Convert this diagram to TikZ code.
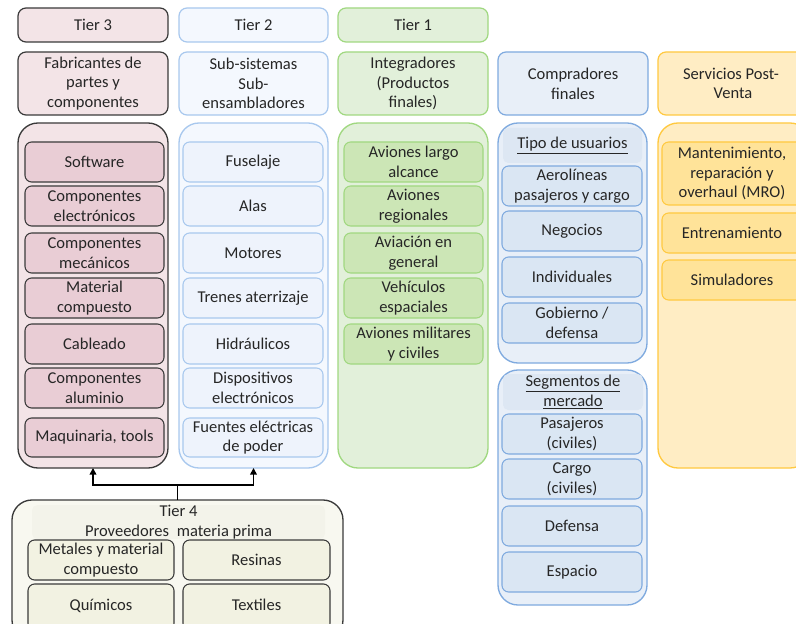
\documentclass[tikz,border=0pt]{standalone}
\usepackage{fontspec}
\setmainfont{Carlito}
\usetikzlibrary{arrows.meta,calc}

\definecolor{ink}{HTML}{3A3A3A}
\definecolor{txt}{HTML}{262626}
\definecolor{pinkA}{HTML}{F3E4E7}
\definecolor{pinkB}{HTML}{E9CDD5}
\definecolor{skyA}{HTML}{F4F8FE}
\definecolor{skyB}{HTML}{EEF3FC}
\definecolor{skyL}{HTML}{A8C8EE}
\definecolor{grnA}{HTML}{E2F0DA}
\definecolor{grnB}{HTML}{CCE6B6}
\definecolor{grnL}{HTML}{A0D880}
\definecolor{bluA}{HTML}{E8EFF8}
\definecolor{bluH}{HTML}{DDE7F3}
\definecolor{bluB}{HTML}{DAE6F3}
\definecolor{bluL}{HTML}{7FAADF}
\definecolor{ylwA}{HTML}{FFEDC4}
\definecolor{ylwB}{HTML}{FFE399}
\definecolor{ylwL}{HTML}{FFC940}
\definecolor{crmA}{HTML}{F8F8F0}
\definecolor{crmH}{HTML}{F3F3EA}
\definecolor{crmB}{HTML}{F2F2E2}

% box from corner (x1,y1) to corner (x2,y2), pixel units, y downwards
\newcommand\bx[7]{\node[#6, minimum width={(#4-#2)*0.75pt}, minimum height={(#5-#3)*0.75pt}] (#1) at ({(#2+#4)/2},{(#3+#5)/2}) {#7};}

\tikzset{
  base/.style={inner sep=0pt, outer sep=0pt, align=center, text=txt,
    font=\fontsize{12.4}{14.8}\selectfont},
  hdr/.style={base, rounded corners=6pt, line width=0.9pt},
  cont/.style={base, rounded corners=15pt, line width=1pt},
  item/.style={base, rounded corners=5pt, line width=0.8pt},
  band/.style={base, rounded corners=4pt},
  pinkhdr/.style={hdr, fill=pinkA, draw=ink},
  pinkcont/.style={cont, fill=pinkA, draw=ink},
  pinkitem/.style={item, fill=pinkB, draw=ink},
  skyhdr/.style={hdr, fill=skyA, draw=skyL},
  skycont/.style={cont, fill=skyA, draw=skyL},
  skyitem/.style={item, fill=skyB, draw=skyL},
  grnhdr/.style={hdr, fill=grnA, draw=grnL},
  grncont/.style={cont, fill=grnA, draw=grnL},
  grnitem/.style={item, fill=grnB, draw=grnL},
  bluhdr/.style={hdr, fill=bluA, draw=bluL},
  blucont/.style={cont, fill=bluA, draw=bluL},
  bluitem/.style={item, fill=bluB, draw=bluL},
  ylwhdr/.style={hdr, fill=ylwA, draw=ylwL},
  ylwcont/.style={cont, fill=ylwA, draw=ylwL},
  ylwitem/.style={item, fill=ylwB, draw=ylwL},
  crmcont/.style={cont, fill=crmA, draw=ink},
  crmitem/.style={item, fill=crmB, draw=ink},
  link/.style={draw=black, line width=1.2pt},
  linkarrow/.style={link, -{Triangle[length=5pt,width=5pt]}},
}

\begin{document}
\begin{tikzpicture}[x=0.75pt,y=-0.75pt]
\useasboundingbox (0,0) rectangle (796,624);
\clip (0,0) rectangle (796,624);
\fill[white] (0,0) rectangle (796,624);

% tier labels
\bx{tierthree}{18}{8}{168}{42}{pinkhdr}{Tier 3}
\bx{tiertwo}{179}{8}{328}{42}{skyhdr}{Tier 2}
\bx{tierone}{338}{8}{488}{42}{grnhdr}{Tier 1}

% column headers
\bx{hfab}{18}{52}{168}{115}{pinkhdr}{Fabricantes de\\partes y\\componentes}
\bx{hsub}{179}{52}{328}{115}{skyhdr}{Sub-sistemas\\Sub-\\ensambladores}
\bx{hint}{338}{52}{488}{115}{grnhdr}{Integradores\\(Productos\\finales)}
\bx{hcomp}{498}{52}{648}{115}{bluhdr}{Compradores\\finales}
\bx{hserv}{658}{52}{808}{115}{ylwhdr}{\hspace*{-3pt}Servicios Post-\\Venta}

% Tier 3 column
\bx{cfab}{18}{123}{168}{468}{pinkcont}{}
\bx{fa}{25}{142}{164}{182}{pinkitem}{Software}
\bx{fb}{25}{186}{164}{226}{pinkitem}{Componentes\\electrónicos}
\bx{fc}{25}{233}{164}{273}{pinkitem}{Componentes\\mecánicos}
\bx{fd}{25}{278}{164}{318}{pinkitem}{Material\\compuesto}
\bx{fe}{25}{324}{164}{364}{pinkitem}{Cableado}
\bx{ff}{25}{368}{164}{408}{pinkitem}{Componentes\\aluminio}
\bx{fg}{25}{418}{164}{457}{pinkitem}{Maquinaria, tools}

% Tier 2 column
\bx{csub}{179}{123}{328}{468}{skycont}{}
\bx{sa}{183}{142}{323}{182}{skyitem}{Fuselaje}
\bx{sb}{183}{186}{323}{226}{skyitem}{Alas}
\bx{sc}{183}{233}{323}{273}{skyitem}{Motores}
\bx{sd}{183}{278}{323}{318}{skyitem}{Trenes aterrizaje}
\bx{se}{183}{324}{323}{364}{skyitem}{Hidráulicos}
\bx{sf}{183}{368}{323}{408}{skyitem}{Dispositivos\\electrónicos}
\bx{sg}{183}{418}{323}{457}{skyitem}{Fuentes eléctricas\\de poder}

% Tier 1 column
\bx{cint}{338}{123}{488}{468}{grncont}{}
\bx{ia}{344}{142}{483}{182}{grnitem}{Aviones largo\\alcance}
\bx{ib}{344}{186}{483}{226}{grnitem}{Aviones\\regionales}
\bx{ic}{344}{233}{483}{273}{grnitem}{Aviación en\\general}
\bx{id}{344}{278}{483}{318}{grnitem}{Vehículos\\espaciales}
\bx{ie}{344}{324}{483}{364}{grnitem}{Aviones militares\\y civiles}

% buyers: user types
\bx{cusr}{498}{123}{647}{363}{blucont}{}
\bx{busr}{503}{128}{642}{163}{band, fill=bluH}{\underline{Tipo de usuarios}}
\bx{ua}{502}{166}{642}{206}{bluitem}{Aerolíneas\\pasajeros y cargo}
\bx{ub}{502}{211}{642}{251}{bluitem}{Negocios}
\bx{uc}{502}{257}{642}{297}{bluitem}{Individuales}
\bx{ud}{502}{303}{642}{343}{bluitem}{Gobierno /\\defensa}

% buyers: market segments
\bx{cseg}{498}{370}{647}{605}{blucont}{}
\bx{bseg}{503}{374}{643}{410}{band, fill=bluH}{\underline{Segmentos de}\\\underline{mercado}}
\bx{ma}{502}{414}{642}{454}{bluitem}{Pasajeros\\(civiles)}
\bx{mb}{502}{459}{642}{499}{bluitem}{Cargo\\(civiles)}
\bx{mc}{502}{506}{642}{546}{bluitem}{Defensa}
\bx{md}{502}{552}{642}{592}{bluitem}{Espacio}

% after-sales services
\bx{cserv}{658}{123}{810}{468}{ylwcont}{}
\bx{va}{662}{142}{810}{205}{ylwitem}{\hspace*{-6pt}Mantenimiento,\\\hspace*{-6pt}reparación y\\\hspace*{-6pt}overhaul (MRO)}
\bx{vb}{662}{213}{810}{253}{ylwitem}{\hspace*{-6pt}Entrenamiento}
\bx{vc}{662}{260}{810}{300}{ylwitem}{\hspace*{-6pt}Simuladores}

% Tier 4: raw material suppliers
\bx{craw}{12}{500}{343}{640}{crmcont}{}
\bx{braw}{32}{506}{325}{538}{band, fill=crmH}{Tier 4\\Proveedores\hspace{3pt} materia prima}
\bx{ra}{28}{540}{174}{580}{crmitem}{Metales y material\\compuesto}
\bx{rb}{183}{540}{330}{580}{crmitem}{Resinas}
\bx{rc}{28}{584}{174}{630}{crmitem}{\raisebox{3pt}{Químicos}}
\bx{rd}{183}{584}{330}{630}{crmitem}{\raisebox{3pt}{Textiles}}

% supply links from Tier 4 up to Tier 3 and Tier 2
\coordinate (split) at ($(craw.north)+(0,-15)$);
\draw[link] (craw.north) -- (split);
\draw[linkarrow] (split) -| (cfab.south);
\draw[linkarrow] (split) -| (csub.south);
\end{tikzpicture}
\end{document}
